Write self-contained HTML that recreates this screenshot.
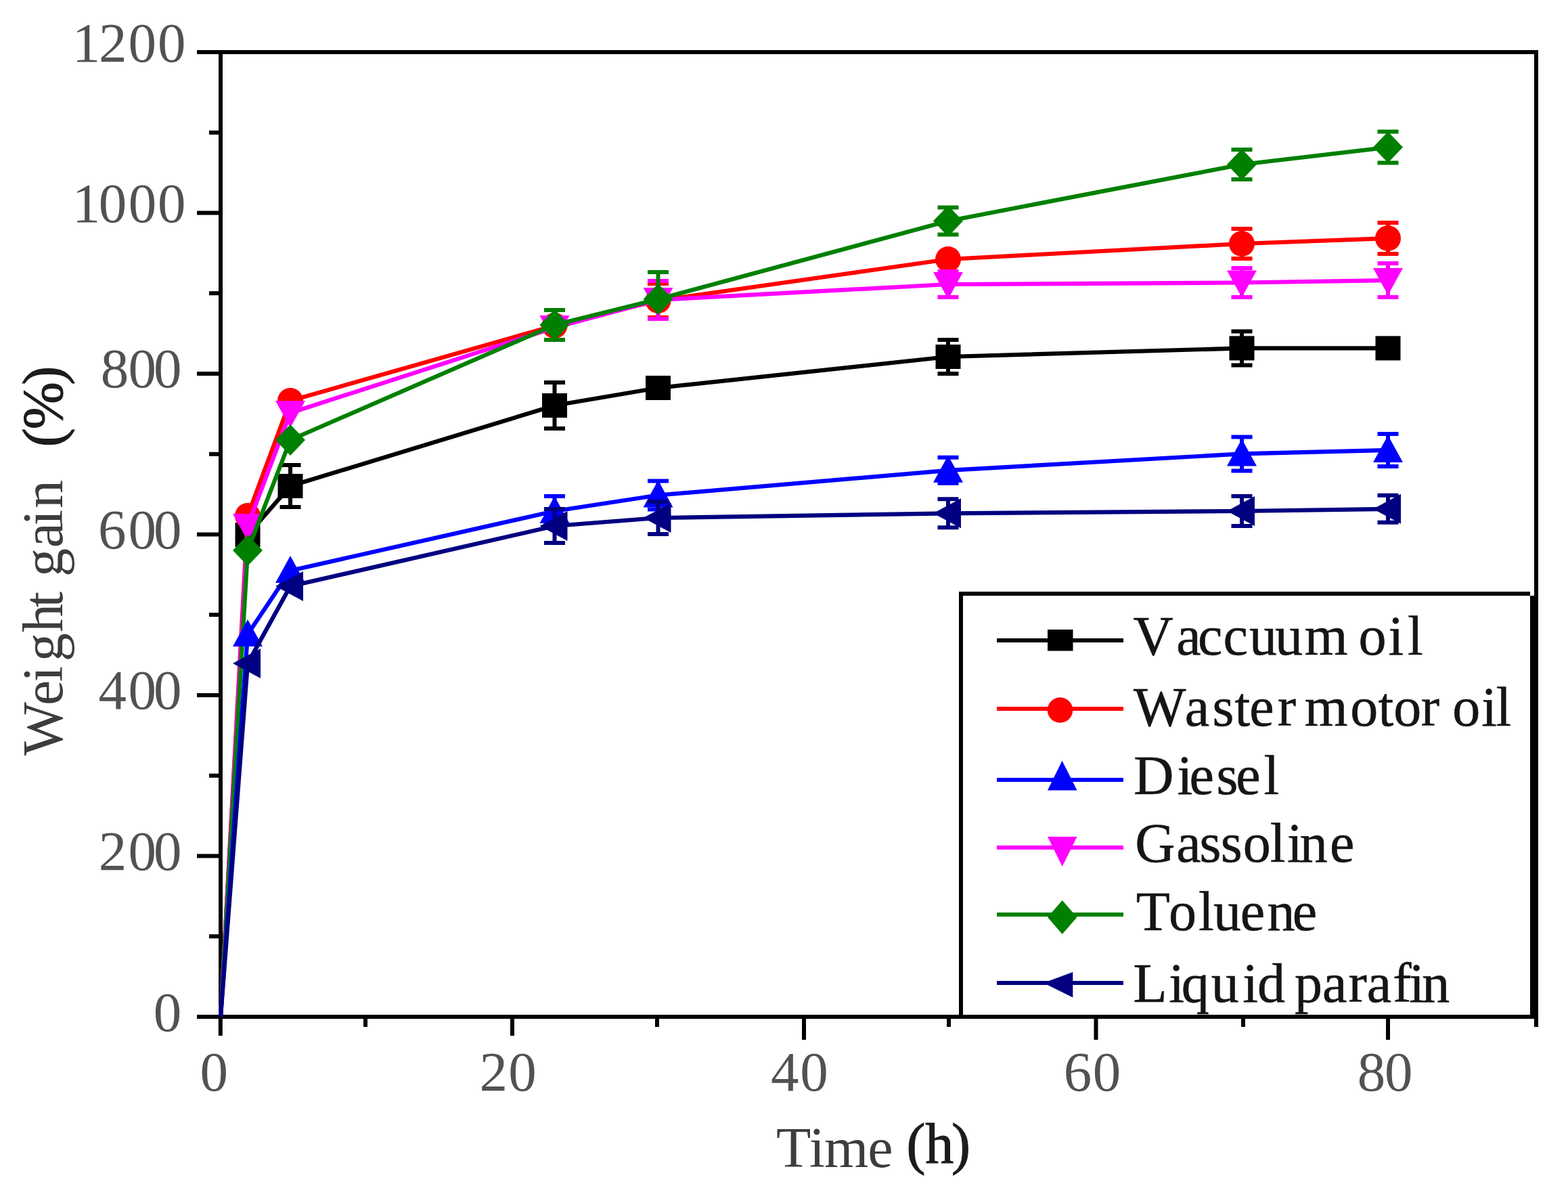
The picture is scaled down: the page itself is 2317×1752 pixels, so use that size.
<!DOCTYPE html>
<html><head><meta charset="utf-8"><title>Weight gain vs time</title>
<style>
html,body{margin:0;padding:0;background:#fff;width:2317px;height:1752px;overflow:hidden}
svg{display:block}
text{font-family:"Liberation Serif","Times New Roman",serif}
.tk{fill:#525252}
.lg{fill:#151515;stroke:#151515;stroke-width:0.6px}
.ax{fill:#3d3d3d}
.ax2{fill:#1c1c1c;stroke:#1c1c1c;stroke-width:1.1px}
text{font-variant-ligatures:none;font-kerning:none}
</style></head><body>
<svg width="2317" height="1752" viewBox="0 0 2317 1752">
<rect width="2317" height="1752" fill="#fff"/>
<g fill="#000">
<rect x="323" y="74" width="6" height="1431"/>
<rect x="291" y="74" width="1982" height="6"/>
<rect x="2267" y="74" width="6" height="1431"/>
<rect x="291" y="1499" width="1982" height="6"/>
<rect x="309" y="1380.2" width="17" height="6"/>
<rect x="291" y="1261.5" width="35" height="6"/>
<rect x="309" y="1142.8" width="17" height="6"/>
<rect x="291" y="1024.0" width="35" height="6"/>
<rect x="309" y="905.2" width="17" height="6"/>
<rect x="291" y="786.5" width="35" height="6"/>
<rect x="309" y="667.8" width="17" height="6"/>
<rect x="291" y="549.0" width="35" height="6"/>
<rect x="309" y="430.2" width="17" height="6"/>
<rect x="291" y="311.5" width="35" height="6"/>
<rect x="309" y="192.8" width="17" height="6"/>
<rect x="322.8" y="1502" width="6" height="28"/>
<rect x="537.0" y="1502" width="6" height="15"/>
<rect x="754.0" y="1502" width="6" height="28"/>
<rect x="968.0" y="1502" width="6" height="15"/>
<rect x="1185.0" y="1502" width="6" height="34"/>
<rect x="1399.0" y="1502" width="6" height="15"/>
<rect x="1616.5" y="1502" width="6" height="34"/>
<rect x="1834.0" y="1502" width="6" height="15"/>
<rect x="2048.0" y="1502" width="6" height="34"/>
<rect x="2267.0" y="1502" width="6" height="15"/>
</g>
<polyline points="326.0,1502.0 366.0,790.0 429.0,718.0 819.5,599.0 972.5,573.0 1401.0,527.0 1835.0,514.4 2051.0,514.4" fill="none" stroke="#000000" stroke-width="6.2" stroke-linejoin="miter"/>
<rect x="347.5" y="772.0" width="37" height="36" fill="#000000"/>
<path d="M429.0,687.0V749.0M413.5,687.0H444.5M413.5,749.0H444.5" stroke="#000000" stroke-width="6" fill="none"/>
<rect x="410.5" y="700.0" width="37" height="36" fill="#000000"/>
<path d="M819.5,565.0V633.0M804.0,565.0H835.0M804.0,633.0H835.0" stroke="#000000" stroke-width="6" fill="none"/>
<rect x="801.0" y="581.0" width="37" height="36" fill="#000000"/>
<rect x="954.0" y="555.0" width="37" height="36" fill="#000000"/>
<path d="M1401.0,502.0V552.0M1385.5,502.0H1416.5M1385.5,552.0H1416.5" stroke="#000000" stroke-width="6" fill="none"/>
<rect x="1382.5" y="509.0" width="37" height="36" fill="#000000"/>
<path d="M1835.0,489.4V539.4M1819.5,489.4H1850.5M1819.5,539.4H1850.5" stroke="#000000" stroke-width="6" fill="none"/>
<rect x="1816.5" y="496.4" width="37" height="36" fill="#000000"/>
<rect x="2032.5" y="496.4" width="37" height="36" fill="#000000"/>
<polyline points="326.0,1502.0 366.0,762.0 429.0,592.0 819.5,481.0 972.5,444.0 1401.0,383.0 1835.0,360.0 2051.0,352.0" fill="none" stroke="#ff0000" stroke-width="6.2" stroke-linejoin="miter"/>
<circle cx="366.0" cy="762.0" r="19" fill="#ff0000"/>
<circle cx="429.0" cy="592.0" r="19" fill="#ff0000"/>
<circle cx="819.5" cy="481.0" r="19" fill="#ff0000"/>
<path d="M972.5,419.0V469.0M957.0,419.0H988.0M957.0,469.0H988.0" stroke="#ff0000" stroke-width="6" fill="none"/>
<circle cx="972.5" cy="444.0" r="19" fill="#ff0000"/>
<circle cx="1401.0" cy="383.0" r="19" fill="#ff0000"/>
<path d="M1835.0,338.0V382.0M1819.5,338.0H1850.5M1819.5,382.0H1850.5" stroke="#ff0000" stroke-width="6" fill="none"/>
<circle cx="1835.0" cy="360.0" r="19" fill="#ff0000"/>
<path d="M2051.0,329.0V375.0M2035.5,329.0H2066.5M2035.5,375.0H2066.5" stroke="#ff0000" stroke-width="6" fill="none"/>
<circle cx="2051.0" cy="352.0" r="19" fill="#ff0000"/>
<polyline points="326.0,1502.0 366.0,777.0 429.0,610.0 819.5,484.0 972.5,443.0 1401.0,420.0 1835.0,417.5 2051.0,414.0" fill="none" stroke="#ff00ff" stroke-width="6.2" stroke-linejoin="miter"/>
<polygon points="366.0,799.0 388.0,759.0 344.0,759.0" fill="#ff00ff"/>
<polygon points="429.0,632.0 451.0,592.0 407.0,592.0" fill="#ff00ff"/>
<polygon points="819.5,506.0 841.5,466.0 797.5,466.0" fill="#ff00ff"/>
<path d="M972.5,415.0V471.0M957.0,415.0H988.0M957.0,471.0H988.0" stroke="#ff00ff" stroke-width="6" fill="none"/>
<polygon points="972.5,465.0 994.5,425.0 950.5,425.0" fill="#ff00ff"/>
<path d="M1401.0,401.0V439.0M1385.5,401.0H1416.5M1385.5,439.0H1416.5" stroke="#ff00ff" stroke-width="6" fill="none"/>
<polygon points="1401.0,442.0 1423.0,402.0 1379.0,402.0" fill="#ff00ff"/>
<path d="M1835.0,396.0V439.0M1819.5,396.0H1850.5M1819.5,439.0H1850.5" stroke="#ff00ff" stroke-width="6" fill="none"/>
<polygon points="1835.0,439.5 1857.0,399.5 1813.0,399.5" fill="#ff00ff"/>
<path d="M2051.0,389.0V439.0M2035.5,389.0H2066.5M2035.5,439.0H2066.5" stroke="#ff00ff" stroke-width="6" fill="none"/>
<polygon points="2051.0,436.0 2073.0,396.0 2029.0,396.0" fill="#ff00ff"/>
<polyline points="326.0,1502.0 366.0,813.0 429.0,650.0 819.5,480.0 972.5,442.0 1401.0,326.4 1835.0,243.0 2051.0,217.5" fill="none" stroke="#008000" stroke-width="6.2" stroke-linejoin="miter"/>
<polygon points="366.0,790.0 388.0,813.0 366.0,836.0 344.0,813.0" fill="#008000"/>
<polygon points="429.0,627.0 451.0,650.0 429.0,673.0 407.0,650.0" fill="#008000"/>
<path d="M819.5,458.0V502.0M804.0,458.0H835.0M804.0,502.0H835.0" stroke="#008000" stroke-width="6" fill="none"/>
<polygon points="819.5,457.0 841.5,480.0 819.5,503.0 797.5,480.0" fill="#008000"/>
<path d="M972.5,402.0V442.0M957.0,402.0H988.0" stroke="#008000" stroke-width="6" fill="none"/>
<polygon points="972.5,419.0 994.5,442.0 972.5,465.0 950.5,442.0" fill="#008000"/>
<path d="M1401.0,306.4V346.4M1385.5,306.4H1416.5M1385.5,346.4H1416.5" stroke="#008000" stroke-width="6" fill="none"/>
<polygon points="1401.0,303.4 1423.0,326.4 1401.0,349.4 1379.0,326.4" fill="#008000"/>
<path d="M1835.0,221.0V265.0M1819.5,221.0H1850.5M1819.5,265.0H1850.5" stroke="#008000" stroke-width="6" fill="none"/>
<polygon points="1835.0,220.0 1857.0,243.0 1835.0,266.0 1813.0,243.0" fill="#008000"/>
<path d="M2051.0,194.5V240.5M2035.5,194.5H2066.5M2035.5,240.5H2066.5" stroke="#008000" stroke-width="6" fill="none"/>
<polygon points="2051.0,194.5 2073.0,217.5 2051.0,240.5 2029.0,217.5" fill="#008000"/>
<polyline points="326.0,1502.0 366.0,937.0 429.0,843.0 819.5,755.0 972.5,731.5 1401.0,694.8 1835.0,670.4 2051.0,665.0" fill="none" stroke="#0000ff" stroke-width="6.2" stroke-linejoin="miter"/>
<polygon points="366.0,915.0 388.0,955.0 344.0,955.0" fill="#0000ff"/>
<polygon points="429.0,821.0 451.0,861.0 407.0,861.0" fill="#0000ff"/>
<path d="M819.5,733.0V777.0M804.0,733.0H835.0M804.0,777.0H835.0" stroke="#0000ff" stroke-width="6" fill="none"/>
<polygon points="819.5,733.0 841.5,773.0 797.5,773.0" fill="#0000ff"/>
<path d="M972.5,710.5V752.5M957.0,710.5H988.0M957.0,752.5H988.0" stroke="#0000ff" stroke-width="6" fill="none"/>
<polygon points="972.5,709.5 994.5,749.5 950.5,749.5" fill="#0000ff"/>
<path d="M1401.0,675.8V713.8M1385.5,675.8H1416.5M1385.5,713.8H1416.5" stroke="#0000ff" stroke-width="6" fill="none"/>
<polygon points="1401.0,672.8 1423.0,712.8 1379.0,712.8" fill="#0000ff"/>
<path d="M1835.0,645.4V695.4M1819.5,645.4H1850.5M1819.5,695.4H1850.5" stroke="#0000ff" stroke-width="6" fill="none"/>
<polygon points="1835.0,648.4 1857.0,688.4 1813.0,688.4" fill="#0000ff"/>
<path d="M2051.0,641.0V689.0M2035.5,641.0H2066.5M2035.5,689.0H2066.5" stroke="#0000ff" stroke-width="6" fill="none"/>
<polygon points="2051.0,643.0 2073.0,683.0 2029.0,683.0" fill="#0000ff"/>
<polyline points="326.0,1502.0 366.0,980.0 429.0,866.0 819.5,777.0 972.5,765.0 1401.0,758.3 1835.0,755.0 2051.0,751.8" fill="none" stroke="#000080" stroke-width="6.2" stroke-linejoin="miter"/>
<polygon points="344.0,980.0 385.0,958.0 385.0,1002.0" fill="#000080"/>
<polygon points="407.0,866.0 448.0,844.0 448.0,888.0" fill="#000080"/>
<path d="M819.5,752.0V802.0M804.0,752.0H835.0M804.0,802.0H835.0" stroke="#000080" stroke-width="6" fill="none"/>
<polygon points="797.5,777.0 838.5,755.0 838.5,799.0" fill="#000080"/>
<path d="M972.5,741.0V789.0M957.0,741.0H988.0M957.0,789.0H988.0" stroke="#000080" stroke-width="6" fill="none"/>
<polygon points="950.5,765.0 991.5,743.0 991.5,787.0" fill="#000080"/>
<path d="M1401.0,737.3V779.3M1385.5,737.3H1416.5M1385.5,779.3H1416.5" stroke="#000080" stroke-width="6" fill="none"/>
<polygon points="1379.0,758.3 1420.0,736.3 1420.0,780.3" fill="#000080"/>
<path d="M1835.0,733.0V777.0M1819.5,733.0H1850.5M1819.5,777.0H1850.5" stroke="#000080" stroke-width="6" fill="none"/>
<polygon points="1813.0,755.0 1854.0,733.0 1854.0,777.0" fill="#000080"/>
<path d="M2051.0,731.8V771.8M2035.5,731.8H2066.5M2035.5,771.8H2066.5" stroke="#000080" stroke-width="6" fill="none"/>
<polygon points="2029.0,751.8 2070.0,729.8 2070.0,773.8" fill="#000080"/>
<g fill="#000">
<rect x="1417" y="874" width="844" height="6"/>
<rect x="1417" y="874" width="6" height="631"/>
<rect x="2261" y="880" width="6" height="625"/>
</g>
<rect x="1473" y="943" width="187" height="6" fill="#000000"/>
<rect x="1548" y="930" width="37.5" height="31.5" fill="#000000"/>
<text x="1674.5 1738.2 1770.0 1807.4 1846.1 1884.1 1927.8 1991.6 2007.5 2051.5 2079.9" y="967" font-size="82" class="lg">Vaccuum oil</text>
<rect x="1473" y="1044" width="187" height="6" fill="#ff0000"/>
<circle cx="1566.5" cy="1049" r="18.7" fill="#ff0000"/>
<text x="1675.1 1750.8 1791.6 1824.6 1846.2 1887.7 1915.0 1927.8 1995.3 2036.6 2059.2 2099.7 2127.0 2146.2 2189.3 2210.6" y="1072" font-size="82" class="lg">Waster motor oil</text>
<rect x="1473" y="1149" width="187" height="6" fill="#0000ff"/>
<polygon points="1569.5,1123.8 1591.5,1167.6 1548,1167.6" fill="#0000ff"/>
<text x="1675.2 1739.5 1757.6 1797.5 1826.2 1867.5" y="1172.5" font-size="82" class="lg">Diesel</text>
<rect x="1473" y="1249" width="187" height="6" fill="#ff00ff"/>
<polygon points="1548,1236 1591.5,1236 1569.7,1280" fill="#ff00ff"/>
<text x="1677.3 1738.2 1772.5 1803.8 1836.8 1876.8 1902.1 1920.7 1965.1" y="1273.3" font-size="82" class="lg">Gassoline</text>
<rect x="1473" y="1348" width="187" height="6" fill="#008000"/>
<polygon points="1569.7,1330 1591.5,1355 1569.7,1380 1548,1355" fill="#008000"/>
<text x="1678.7 1727.1 1771.0 1793.1 1832.7 1872.4 1909.7" y="1373.5" font-size="82" class="lg">Toluene</text>
<rect x="1473" y="1449" width="187" height="6" fill="#000080"/>
<polygon points="1541.8,1452 1585.3,1436 1585.3,1473.5" fill="#000080"/>
<text x="1674.5 1727.2 1745.7 1789.8 1836.3 1857.9 1898.9 1913.0 1953.9 1992.6 2019.8 2058.3 2082.3 2101.2" y="1479.5" font-size="82" class="lg">Liquid parafin</text>
<text x="106.7 145.9 189.4 232.9" y="90.7" font-size="83" class="tk">1200</text>
<text x="106.7 145.8 189.7 233.1" y="328.3" font-size="83" class="tk">1000</text>
<text x="148.7 189.6 226.9" y="572.2" font-size="83" class="tk">800</text>
<text x="145.1 189.6 226.9" y="809.7" font-size="83" class="tk">600</text>
<text x="145.5 189.6 226.9" y="1047.4" font-size="83" class="tk">400</text>
<text x="145.7 189.6 226.9" y="1285.3" font-size="83" class="tk">200</text>
<text x="226.8" y="1522.7" font-size="83" class="tk">0</text>
<text x="295.6" y="1610.5" font-size="83" class="tk">0</text>
<text x="708.5 751.2" y="1610.5" font-size="83" class="tk">20</text>
<text x="1139.1 1182.2" y="1610.5" font-size="83" class="tk">40</text>
<text x="1571.7 1614.8" y="1610.5" font-size="83" class="tk">60</text>
<text x="2005.7 2045.9" y="1610.5" font-size="83" class="tk">80</text>
<text x="1147.1 1195.7 1218.1 1282.2" y="1723.7" font-size="84" class="ax">Time</text>
<text x="1339.5 1367.3 1406.0" y="1718" font-size="84" class="ax2">(h)</text>
<g transform="translate(91.7,0) rotate(-90)">
<text x="-1116.2 -1042.1 -1007.3 -977.2 -933.9 -897.2 -873.8 -852.1 -809.2 -776.3 -751.1" y="0" font-size="84" class="ax">Weight gain</text>
<text x="-660.2 -634.2 -568.7" y="0" font-size="84" class="ax2">(%)</text>
</g>
</svg>
</body></html>
